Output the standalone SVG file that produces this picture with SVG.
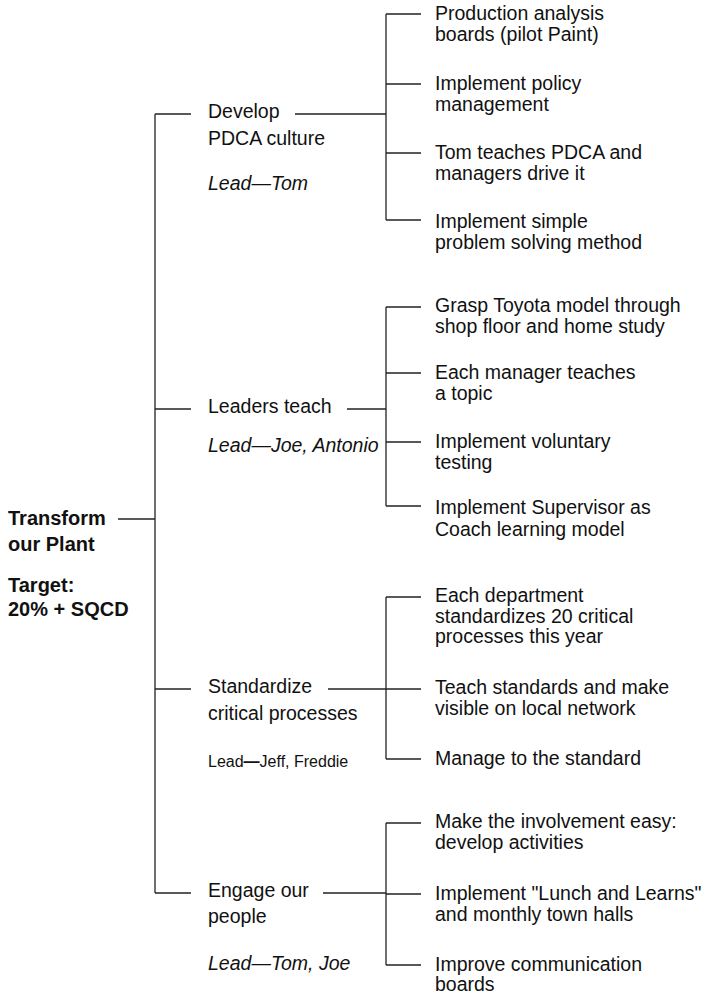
<svg xmlns="http://www.w3.org/2000/svg" width="711" height="994" viewBox="0 0 711 994">
<style>
text{font-family:"Liberation Sans",Arial,sans-serif;fill:#111}
.r{font-size:19.5px}
.l{font-size:19.5px}
.i{font-style:italic}
.b{font-size:20px;font-weight:bold}
.s{font-size:16px}
.c line{stroke:#222;stroke-width:1.3;fill:none}
</style>
<rect width="711" height="994" fill="#fff"/>
<g class="c" id="connectors">
<line x1="118" y1="519" x2="155" y2="519"/>
<line x1="155" y1="114" x2="155" y2="893"/>
<line x1="155" y1="114" x2="191" y2="114"/>
<line x1="155" y1="409" x2="191" y2="409"/>
<line x1="155" y1="689" x2="191" y2="689"/>
<line x1="155" y1="893" x2="191" y2="893"/>
<line x1="295" y1="114" x2="386" y2="114"/>
<line x1="347" y1="409" x2="386" y2="409"/>
<line x1="328" y1="689" x2="386" y2="689"/>
<line x1="323" y1="893" x2="386" y2="893"/>
<line x1="386" y1="14" x2="386" y2="220"/>
<line x1="386" y1="14" x2="421" y2="14"/>
<line x1="386" y1="84" x2="421" y2="84"/>
<line x1="386" y1="153" x2="421" y2="153"/>
<line x1="386" y1="220" x2="421" y2="220"/>
<line x1="386" y1="307" x2="386" y2="506"/>
<line x1="386" y1="307" x2="421" y2="307"/>
<line x1="386" y1="373" x2="421" y2="373"/>
<line x1="386" y1="442" x2="421" y2="442"/>
<line x1="386" y1="506" x2="421" y2="506"/>
<line x1="386" y1="597" x2="386" y2="759"/>
<line x1="386" y1="597" x2="421" y2="597"/>
<line x1="386" y1="689" x2="421" y2="689"/>
<line x1="386" y1="759" x2="421" y2="759"/>
<line x1="386" y1="823" x2="386" y2="965"/>
<line x1="386" y1="823" x2="421" y2="823"/>
<line x1="386" y1="894" x2="421" y2="894"/>
<line x1="386" y1="965" x2="421" y2="965"/>
</g>
<g id="root">
<text class="b" x="8" y="525">Transform</text>
<text class="b" x="8" y="551">our Plant</text>
<text class="b" x="8" y="592">Target:</text>
<text class="b" x="8" y="616">20% + SQCD</text>
</g>
<g id="b1">
<text class="l" x="208" y="118">Develop</text>
<text class="l" x="208" y="145">PDCA culture</text>
<text class="l i" x="208" y="190">Lead—Tom</text>
</g>
<g id="b2">
<text class="l" x="208" y="413">Leaders teach</text>
<text class="l i" x="208" y="452">Lead—Joe, Antonio</text>
</g>
<g id="b3">
<text class="l" x="208" y="693">Standardize</text>
<text class="l" x="208" y="720">critical processes</text>
<text class="s" x="208" y="767">Lead<tspan font-weight="bold">—</tspan>Jeff, Freddie</text>
</g>
<g id="b4">
<text class="l" x="208" y="897">Engage our</text>
<text class="l" x="208" y="923">people</text>
<text class="l i" x="208" y="970">Lead—Tom, Joe</text>
</g>
<g id="s1a"><text class="r" x="435" y="20">Production analysis</text><text class="r" x="435" y="41">boards (pilot Paint)</text></g>
<g id="s1b"><text class="r" x="435" y="90">Implement policy</text><text class="r" x="435" y="111">management</text></g>
<g id="s1c"><text class="r" x="435" y="159">Tom teaches PDCA and</text><text class="r" x="435" y="180">managers drive it</text></g>
<g id="s1d"><text class="r" x="435" y="228">Implement simple</text><text class="r" x="435" y="249">problem solving method</text></g>
<g id="s2a"><text class="r" x="435" y="312">Grasp Toyota model through</text><text class="r" x="435" y="333">shop floor and home study</text></g>
<g id="s2b"><text class="r" x="435" y="379">Each manager teaches</text><text class="r" x="435" y="400">a topic</text></g>
<g id="s2c"><text class="r" x="435" y="448">Implement voluntary</text><text class="r" x="435" y="469">testing</text></g>
<g id="s2d"><text class="r" x="435" y="514">Implement Supervisor as</text><text class="r" x="435" y="536">Coach learning model</text></g>
<g id="s3a"><text class="r" x="435" y="602">Each department</text><text class="r" x="435" y="623">standardizes 20 critical</text><text class="r" x="435" y="643">processes this year</text></g>
<g id="s3b"><text class="r" x="435" y="694">Teach standards and make</text><text class="r" x="435" y="715">visible on local network</text></g>
<g id="s3c"><text class="r" x="435" y="765">Manage to the standard</text></g>
<g id="s4a"><text class="r" x="435" y="828">Make the involvement easy:</text><text class="r" x="435" y="849">develop activities</text></g>
<g id="s4b"><text class="r" x="435" y="900">Implement "Lunch and Learns"</text><text class="r" x="435" y="921">and monthly town halls</text></g>
<g id="s4c"><text class="r" x="435" y="971">Improve communication</text><text class="r" x="435" y="991">boards</text></g>
</svg>
